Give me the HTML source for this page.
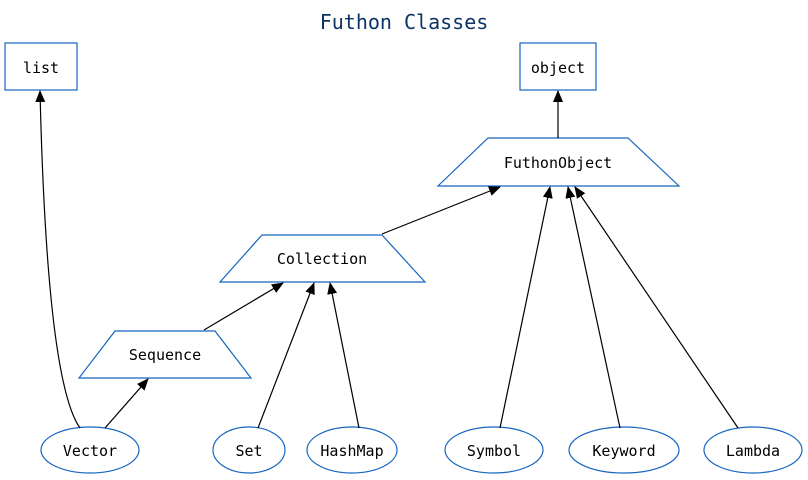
<!DOCTYPE html>
<html><head><meta charset="utf-8"><style>
html,body{margin:0;padding:0;background:#fff;}
svg{display:block;}
text{font-family:"DejaVu Sans Mono","Liberation Mono",monospace;font-size:15px;fill:#000;text-anchor:middle;dominant-baseline:central;}
.n{fill:none;stroke:#1565c0;stroke-width:1.2;}
.e{fill:none;stroke:#000;stroke-width:1.2;}
</style></head><body>
<svg width="808" height="480" viewBox="0 0 808 480" xmlns="http://www.w3.org/2000/svg">
<defs><marker id="a" markerWidth="12" markerHeight="10" refX="11" refY="5" orient="auto" markerUnits="userSpaceOnUse"><path d="M0,0 L12,5 L0,10 z" fill="#000"/></marker></defs>
<text x="404" y="22" style="font-size:20px;fill:#0d3466">Futhon Classes</text>
<rect class="n" x="5" y="43" width="72" height="47"/><text x="41" y="68">list</text>
<rect class="n" x="520" y="43" width="76" height="47"/><text x="558" y="68">object</text>
<polygon class="n" points="488,138 628,138 679,186 438,186"/><text x="558" y="163">FuthonObject</text>
<polygon class="n" points="262,235 382,235 425,282 220,282"/><text x="322" y="259">Collection</text>
<polygon class="n" points="115,331 215,331 251,378 79,378"/><text x="165" y="355">Sequence</text>
<ellipse class="n" cx="90" cy="450" rx="49" ry="23"/><text x="90" y="451">Vector</text>
<ellipse class="n" cx="249" cy="450" rx="36" ry="23"/><text x="249" y="451">Set</text>
<ellipse class="n" cx="352" cy="450" rx="45" ry="23"/><text x="352" y="451">HashMap</text>
<ellipse class="n" cx="494" cy="450" rx="49" ry="23"/><text x="494" y="451">Symbol</text>
<ellipse class="n" cx="624" cy="450" rx="55" ry="23"/><text x="624" y="451">Keyword</text>
<ellipse class="n" cx="753" cy="450" rx="49" ry="23"/><text x="753" y="451">Lambda</text>
<path class="e" marker-end="url(#a)" d="M80,428 C60,400 45,300 40,91"/>
<path class="e" marker-end="url(#a)" d="M105,428 L148,379"/>
<path class="e" marker-end="url(#a)" d="M204,330 L283,283"/>
<path class="e" marker-end="url(#a)" d="M258,428 L314,283"/>
<path class="e" marker-end="url(#a)" d="M359,428 L330,283"/>
<path class="e" marker-end="url(#a)" d="M382,234 L500,187"/>
<path class="e" marker-end="url(#a)" d="M500,428 L550,187"/>
<path class="e" marker-end="url(#a)" d="M620,428 L568,187"/>
<path class="e" marker-end="url(#a)" d="M738,428 L575,187"/>
<path class="e" marker-end="url(#a)" d="M558,138 L558,91"/>
</svg>
</body></html>
